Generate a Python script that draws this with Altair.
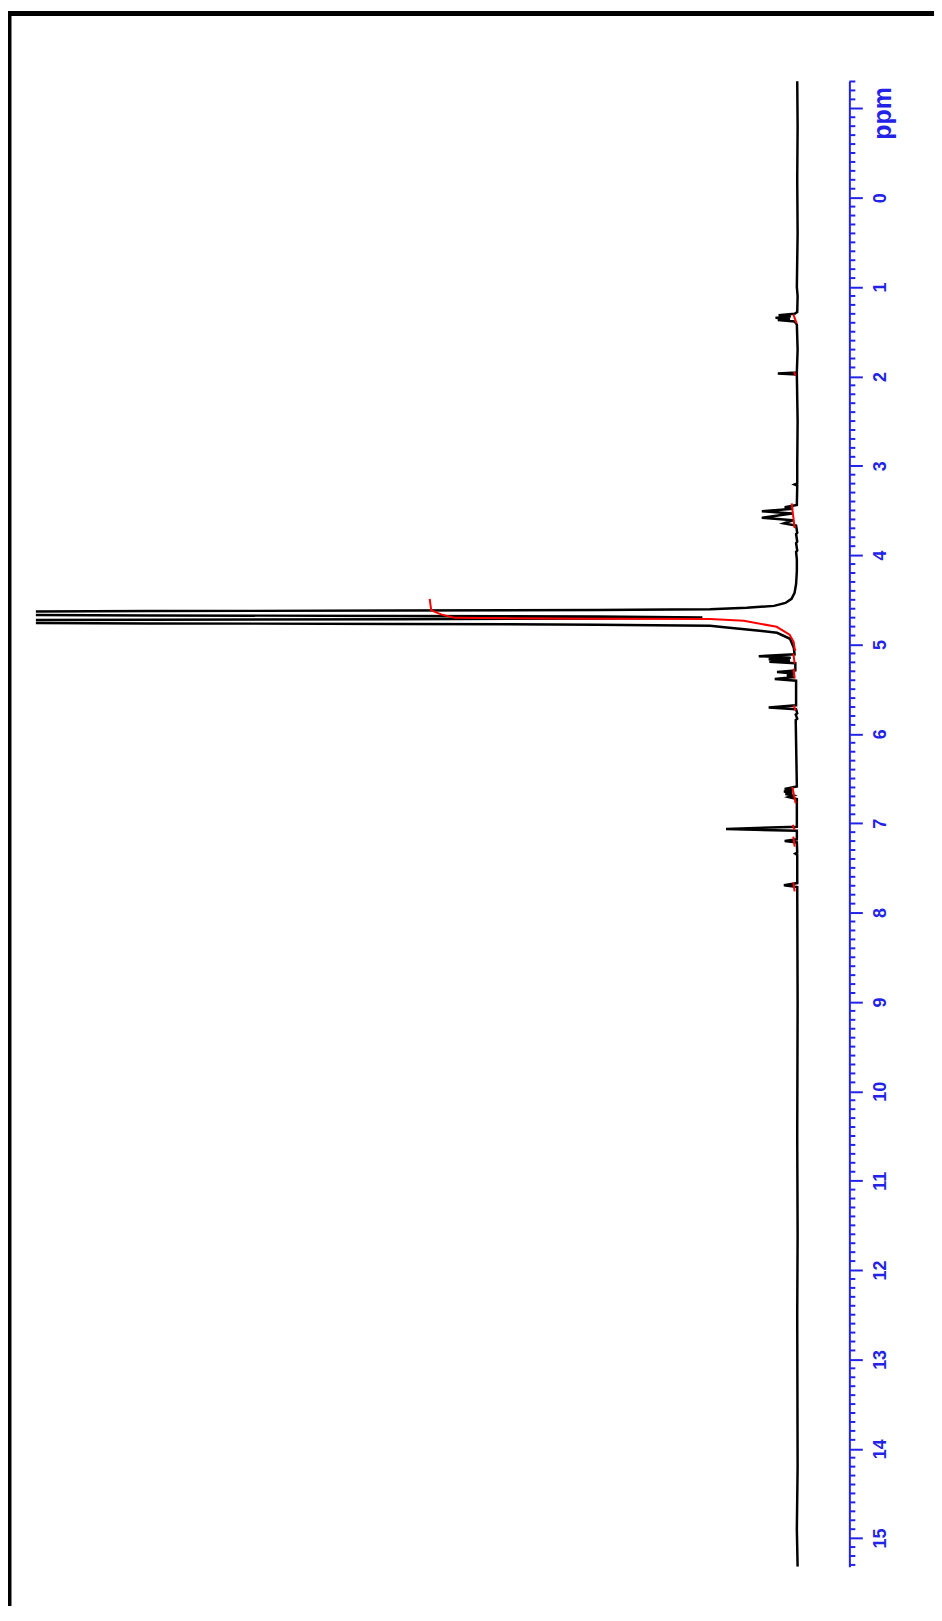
import altair as alt
import pandas as pd

# ---- black trace: chemical shift (ppm) and intensity (a.u., 100 = clip level)
spec_ppm = [
    -1.31, -0.8, -0.2, 0.4, 1.0, 1.1, 1.28,
    1.30, 1.315, 1.33, 1.343, 1.357, 1.370, 1.385, 1.42,
    1.7, 1.955, 1.967, 1.979, 2.5, 3.0,
    3.198, 3.21, 3.222,
    3.44, 3.465, 3.48, 3.51, 3.535, 3.582, 3.61, 3.645, 3.67,
    3.75, 3.765, 3.85, 3.865, 3.95, 3.965, 4.05,
    4.18, 4.323, 4.423, 4.49, 4.535, 4.568, 4.59, 4.605, 4.615, 4.621, 4.626,
    4.652, 4.675, 4.680, 4.686, 4.697, 4.709, 4.717, 4.722, 4.744,
    4.764, 4.770, 4.778, 4.791, 4.81, 4.847, 4.869, 4.936, 5.036,
    5.11, 5.131, 5.148, 5.164, 5.178, 5.192, 5.21,
    5.29, 5.309, 5.325, 5.348, 5.365, 5.387, 5.405,
    5.68, 5.705, 5.725, 5.77, 5.785, 5.83, 5.845,
    6.59, 6.618, 6.632, 6.646, 6.66, 6.674, 6.69, 6.708, 6.73,
    7.04, 7.064, 7.085, 7.18, 7.198, 7.215,
    7.33, 7.34, 7.355, 7.67, 7.694, 7.715,
    9.0, 10.5, 11.6, 12.5, 14.2, 14.9, 15.32,
]
spec_int = [
    0.05, 0.0, 0.05, 0.0, 0.1, 0.0, 0.05,
    0.4, 2.5, 0.9, 2.9, 1.0, 2.6, 0.4, 0.1,
    0.0, 0.1, 2.6, 0.1, 0.0, 0.05,
    0.05, 0.4, 0.05,
    0.1, 1.7, 0.6, 4.7, 0.7, 4.7, 0.6, 1.8, 0.2,
    0.05, 0.2, 0.05, 0.2, 0.05, 0.2, 0.1,
    0.1, 0.2, 0.4, 0.8, 1.6, 3.1, 6.7, 11.5, 26.3, 52.4, 85.1,
    160, 85.1, 52.4, 26.3, 12.5, 26.3, 52.4, 85.1, 160,
    85.1, 52.4, 26.3, 11.5, 9.3, 5.0, 2.7, 1.0, 0.5,
    0.4, 5.1, 0.9, 3.8, 1.0, 3.7, 0.3,
    0.3, 2.7, 0.4, 1.4, 0.4, 3.0, 0.2,
    0.2, 3.8, 0.2, 0.05, 0.25, 0.05, 0.25,
    0.1, 1.7, 0.7, 1.8, 0.7, 1.6, 0.6, 1.2, 0.1,
    0.1, 9.4, 0.1, 0.1, 1.7, 0.1,
    0.05, 0.3, 0.05, 0.05, 1.8, 0.05,
    0.0, 0.05, 0.0, 0.05, 0.0, 0.1, 0.0,
]

# ---- red integral traces
integ_seg = (["w"] * 12 + ["a"] * 2 + ["b"] * 2 + ["c"] * 2 + ["d"] * 2 + ["e"] * 2
             + ["f"] * 2 + ["g"] * 2 + ["h"] * 2 + ["i"] * 2 + ["j"] * 2)
integ_ppm = [
    5.07, 5.047, 4.969, 4.891, 4.802, 4.735, 4.716, 4.711, 4.702, 4.663, 4.618, 4.490,
    1.407, 1.306,
    1.990, 1.950,
    3.699, 3.421,
    5.214, 5.103,
    5.382, 5.270,
    5.738, 5.682,
    6.778, 6.593,
    7.075, 7.019,
    7.261, 7.150,
    7.763, 7.662,
]
integ_val = [
    0.26, 0.39, 0.52, 1.05, 2.75, 7.06, 11.5, 26.3, 45.0, 46.8, 48.1, 48.3,
    0.13, 0.56,
    0.3, 0.45,
    0.39, 0.78,
    0.39, 0.56,
    0.39, 0.52,
    0.26, 0.52,
    0.26, 0.69,
    0.39, 0.65,
    0.39, 0.56,
    0.39, 0.56,
]

major_ticks = list(range(-1, 16))
minor_ticks = [round(v / 10, 1) for v in range(-13, 154) if v % 10 != 0]

BLUE = "#2323e8"
FONT = "Liberation Sans"
W, H = 770, 1492
OFF = 47
AXX = W + OFF

spec = pd.DataFrame({"ppm": spec_ppm, "intensity": spec_int,
                     "idx": list(range(len(spec_ppm)))})
integ = pd.DataFrame({"ppm": integ_ppm, "intensity": integ_val, "seg": integ_seg,
                      "idx": list(range(len(integ_ppm)))})
minor = pd.DataFrame({"ppm": minor_ticks})
one = pd.DataFrame({"k": [0]})

yscale = alt.Scale(domain=[-1.304, 15.32], reverse=True, nice=False, zero=False)
xscale = alt.Scale(domain=[-0.65, 100], reverse=True, nice=False, zero=False)

yaxis = alt.Axis(
    orient="right", offset=OFF, values=major_ticks, format="d",
    labelExpr="datum.value < 0 ? '' : datum.label",
    grid=False, domainColor=BLUE, domainWidth=2,
    tickColor=BLUE, tickWidth=2, tickSize=13,
    labelColor=BLUE, labelFont=FONT, labelFontSize=18, labelFontWeight="bold",
    labelAngle=270, labelAlign="center", labelBaseline="top", labelPadding=9,
    labelOverlap=False, labelFlush=False, labelBound=False,
    title="ppm", titleColor=BLUE, titleFont=FONT, titleFontSize=25,
    titleFontWeight="bold", titleAngle=270, titleAlign="center",
    titleBaseline="top", titleX=21, titleY=32,
)

line = alt.Chart(spec).mark_line(color="black", strokeWidth=2.5, clip=True).encode(
    x=alt.X("intensity:Q", scale=xscale, axis=None),
    y=alt.Y("ppm:Q", scale=yscale, axis=yaxis),
    order=alt.Order("idx:Q"),
)

red = alt.Chart(integ).mark_line(color="#ff0000", strokeWidth=2, clip=True).encode(
    x=alt.X("intensity:Q", scale=xscale, axis=None),
    y=alt.Y("ppm:Q", scale=yscale, axis=yaxis),
    detail="seg:N",
    order=alt.Order("idx:Q"),
)

minor_rules = alt.Chart(minor).mark_rule(color=BLUE, strokeWidth=2).encode(
    y=alt.Y("ppm:Q", scale=yscale, axis=yaxis),
    x=alt.value(AXX),
    x2=alt.value(AXX + 6),
)

frame_top = alt.Chart(one).mark_rule(color="black", strokeWidth=5).encode(
    x=alt.value(-30), x2=alt.value(1000), y=alt.value(-68),
)
frame_left = alt.Chart(one).mark_rule(color="black", strokeWidth=5).encode(
    x=alt.value(-27), y=alt.value(-70.5), y2=alt.value(1700),
)

chart = alt.layer(line, red, minor_rules, frame_top, frame_left).properties(
    width=W, height=H,
    padding={"left": 28, "top": 70, "right": 132, "bottom": 36},
    autosize=alt.AutoSizeParams(type="none"),
    background="white",
).configure_view(stroke="transparent")

chart.save("out.html", embed_options={"renderer": "svg", "actions": False})
